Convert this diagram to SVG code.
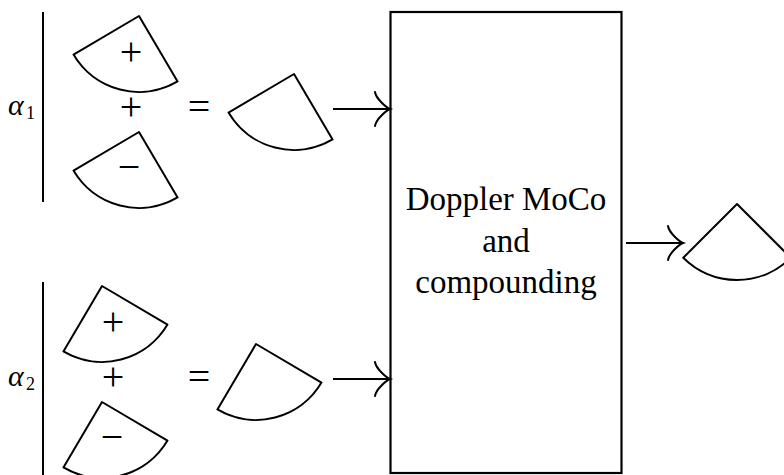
<svg xmlns="http://www.w3.org/2000/svg" xmlns:xlink="http://www.w3.org/1999/xlink" width="784" height="475" viewBox="0 0 784 475">
<style>
.ln{fill:none;stroke:#000;stroke-width:2;stroke-linejoin:round}
.sec{fill:#fff;stroke:#000;stroke-width:2;stroke-linejoin:round}
.box{fill:#fff;stroke:#000;stroke-width:2.2}
.op{font-family:"Liberation Serif",serif;font-size:40px;text-anchor:middle;fill:#000}
.lbl{font-family:"Liberation Serif",serif;font-size:33px;text-anchor:middle;fill:#000}
.al{font-family:"Liberation Serif",serif;font-style:italic;font-size:30px;fill:#000}
.sub{font-family:"Liberation Serif",serif;font-size:18px;fill:#000}
</style>
<defs>
<path id="sector" d="M0,0 L-53.74,53.74 A76,76 0 0 0 53.74,53.74 Z"/>
<marker id="to" markerUnits="userSpaceOnUse" viewBox="-18 -18 20 36" refX="0" refY="0" markerWidth="20" markerHeight="36" orient="auto" overflow="visible">
<path d="M-15,-17 C-14,-10 -3,-1 0,0 C-3,1 -14,10 -15,17" fill="none" stroke="#000" stroke-width="2" stroke-linecap="round"/>
</marker>
</defs>
<rect width="784" height="475" fill="#fff"/>

<g id="group1">
<line class="ln" x1="43" y1="12" x2="43" y2="202"/>
<text class="al" x="8" y="115">α</text><text class="sub" x="26" y="119">1</text>
<g id="g1-plus"><use href="#sector" class="sec" transform="translate(139,16) rotate(14.5)"/><text class="op" x="131" y="65">+</text></g>
<text class="op" x="131" y="119.5">+</text>
<g id="g1-minus"><use href="#sector" class="sec" transform="translate(139,132) rotate(14.5)"/><text class="op" x="129" y="179.5">−</text></g>
<text class="op" x="199" y="119.5">=</text>
</g>
<g id="g1-sum"><use href="#sector" class="sec" transform="translate(294,74) rotate(14.5)"/></g>

<g id="group2">
<line class="ln" x1="43" y1="282" x2="43" y2="476"/>
<text class="al" x="8" y="386">α</text><text class="sub" x="26" y="390">2</text>
<g id="g2-plus"><use href="#sector" class="sec" transform="translate(102,286) rotate(-14.5)"/><text class="op" x="113" y="335">+</text></g>
<text class="op" x="113" y="389.5">+</text>
<g id="g2-minus"><use href="#sector" class="sec" transform="translate(102,402) rotate(-14.5)"/><text class="op" x="112" y="449.5">−</text></g>
<text class="op" x="199" y="389.5">=</text>
</g>
<g id="g2-sum"><use href="#sector" class="sec" transform="translate(256,344) rotate(-14.5)"/></g>

<g id="box">
<rect class="box" x="390.5" y="12" width="231" height="461"/>
<text class="lbl" x="506" y="210">Doppler MoCo</text>
<text class="lbl" x="506" y="252">and</text>
<text class="lbl" x="506" y="293">compounding</text>
</g>

<g id="output"><use href="#sector" class="sec" transform="translate(737,204)"/></g>

<g id="connectors">
<line class="ln" x1="333" y1="109" x2="390" y2="109" marker-end="url(#to)"/>
<line class="ln" x1="333" y1="379" x2="390" y2="379" marker-end="url(#to)"/>
<line class="ln" x1="626" y1="243" x2="683" y2="243" marker-end="url(#to)"/>
</g>
</svg>
